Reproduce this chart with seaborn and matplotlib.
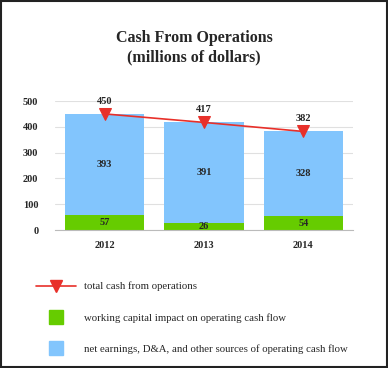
import matplotlib
matplotlib.use("Agg")
import matplotlib.pyplot as plt
import seaborn as sns
import pandas as pd
from matplotlib.lines import Line2D
from matplotlib.patches import Rectangle

# Dados
years = ["2012", "2013", "2014"]
total_cash = [450, 417, 382]
working_capital = [57, 26, 54]
net_earnings = [393, 391, 328]

labels = [
    "total cash from operations",
    "working capital impact on operating cash flow",
    "net earnings, D&A, and other sources of operating cash flow",
]

blue = "#82C5FD"
green = "#66CC00"
red = "#E8302A"

sns.set_style("white")
plt.rcParams["font.family"] = ["Liberation Serif", "DejaVu Serif"]

df = pd.DataFrame({
    "year": years,
    "total": total_cash,
    "wc": working_capital,
    "ne": net_earnings,
})

fig = plt.figure(figsize=(3.88, 3.68), dpi=100)
ax = fig.add_axes([0.142, 0.375, 0.768, 0.3505])

# Barras empilhadas: azul por cima do verde
sns.barplot(data=df, x="year", y="ne", bottom=df["wc"], color=blue,
            width=0.8, saturation=1, linewidth=0, ax=ax)
sns.barplot(data=df, x="year", y="wc", color=green,
            width=0.8, saturation=1, linewidth=0, ax=ax)

# Linha do total
sns.lineplot(x=range(len(years)), y=total_cash, color=red, marker="v",
             markersize=9, markeredgecolor=red, linewidth=1.2, ax=ax)

for i in range(len(years)):
    ax.text(i, net_earnings[i] / 2 + working_capital[i], str(net_earnings[i]),
            ha="center", va="center", fontsize=7.5, fontweight="bold")
    ax.text(i, working_capital[i] / 2, str(working_capital[i]),
            ha="center", va="center", fontsize=7.5, fontweight="bold")
    ax.annotate(str(total_cash[i]), (i, total_cash[i]), xytext=(0, 6),
                textcoords="offset points", ha="center", va="bottom",
                fontsize=7.5, fontweight="bold")

ax.set_xlim(-0.5, 2.5)
ax.set_ylim(0, 500)
ax.set_yticks([0, 100, 200, 300, 400, 500])
ax.grid(axis="y", color="#E0E0E0", linewidth=0.8)
ax.set_axisbelow(True)
for s in ["top", "right", "left"]:
    ax.spines[s].set_visible(False)
ax.spines["bottom"].set_color("#BBBBBB")
ax.tick_params(length=0, labelsize=7.5)
ax.tick_params(axis="y", pad=12)
ax.tick_params(axis="x", pad=8)
for t in ax.get_xticklabels() + ax.get_yticklabels():
    t.set_fontweight("bold")
ax.set_xlabel("")
ax.set_ylabel("")

fig.text(0.5, 0.87, "Cash From Operations\n(millions of dollars)",
         ha="center", va="center", fontsize=11.5, fontweight="bold",
         linespacing=1.3)

handles = [
    Line2D([0], [0], color=red, marker="v", markersize=9, linewidth=1.2),
    Line2D([0], [0], color=green, marker="s", markersize=10, linestyle="none"),
    Line2D([0], [0], color=blue, marker="s", markersize=10, linestyle="none"),
]
fig.legend(handles, labels, loc="upper left", bbox_to_anchor=(0.067, 0.261),
           frameon=False, fontsize=7.75, labelspacing=2.0, handlelength=3.7,
           handletextpad=0.75, borderpad=0.4)

fig.add_artist(Rectangle((0.003, 0.003), 0.994, 0.994, transform=fig.transFigure,
                         fill=False, edgecolor="#222222", linewidth=1.5))

fig.savefig("out.png", dpi=100)
